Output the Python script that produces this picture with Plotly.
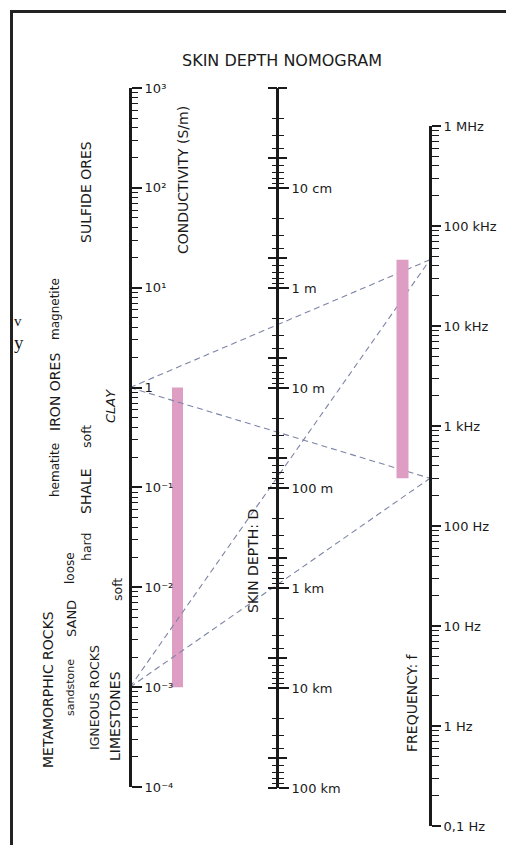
import math
import plotly.graph_objects as go

W, H = 506, 845

# ---------------- data ----------------
sigma_ticks = [1e-4, 1e-3, 1e-2, 1e-1, 1, 1e1, 1e2, 1e3]
sigma_labels = ["10⁻⁴", "10⁻³", "10⁻²", "10⁻¹", "1", "10¹", "10²", "10³"]
depth_ticks_m = [0.1, 1, 10, 100, 1e3, 1e4, 1e5]
depth_labels = ["10 cm", "1 m", "10 m", "100 m", "1 km", "10 km", "100 km"]
depth_top_m = 0.01
freq_ticks_hz = [0.1, 1, 10, 100, 1e3, 1e4, 1e5, 1e6]
freq_labels = ["0,1 Hz", "1 Hz", "10 Hz", "100 Hz", "1 kHz", "10 kHz", "100 kHz", "1 MHz"]
minor_mult = [2, 3, 4, 5, 6, 7, 8, 9]
depth_mid_mult = [5]
depth_minor_mult = [2, 3, 4, 6, 7, 8, 9]

sigma_range = [1e-3, 1.0]        # S/m (pink bar on conductivity scale)
freq_range = [300.0, 46000.0]    # Hz  (pink bar on frequency scale)

rock_labels = [  # text, x, y, size
    ("SULFIDE ORES", 86, 192, 14),
    ("magnetite", 55, 309, 12),
    ("IRON ORES", 55, 392, 14),
    ("hematite", 55, 470, 12),
    ("<i>CLAY</i>", 110, 406, 13),
    ("soft", 86, 437, 12.5),
    ("SHALE", 86, 491, 14),
    ("hard", 86, 547, 12.5),
    ("loose", 70, 568, 12),
    ("SAND", 71, 619, 13),
    ("sandstone", 70, 688, 11),
    ("METAMORPHIC ROCKS", 48, 690, 14),
    ("IGNEOUS ROCKS", 94, 698, 12.5),
    ("soft", 117, 590, 12.5),
    ("LIMESTONES", 115, 716, 14),
]
axis_titles = [("CONDUCTIVITY (S/m)", 183, 180), ("SKIN DEPTH: D", 253, 561),
               ("FREQUENCY: f", 412, 703)]

# ---------------- geometry (layout only) ----------------
SIG = dict(x=130, top=88, bot=787, lo=-4, hi=3)
DEP = dict(x=277, top=88, bot=788, lo=-2, hi=5)
FRQ = dict(x=430, top=126, bot=826, lo=-1, hi=6)
SIG_BAR_X, SIG_BAR_W = 177.5, 11
FRQ_BAR_X, FRQ_BAR_W = 402.5, 12
FONT = "DejaVu Sans"
INK = "#1a1a1a"
PINK = "#de9ec3"
DASH = "#7d84a6"


def dom(ax):
    return [(H - ax["bot"]) / H, (H - ax["top"]) / H]


def pos_of(ax, v):
    return ax["top"] + (ax["hi"] - math.log10(v)) / (ax["hi"] - ax["lo"]) * (ax["bot"] - ax["top"])


def val_at(ax, p):
    return 10 ** (ax["hi"] - (p - ax["top"]) / (ax["bot"] - ax["top"]) * (ax["hi"] - ax["lo"]))


def mults(decades, m):
    out = []
    for d in decades[:-1]:
        for k in m:
            out.append(d * k)
    return out


fig = go.Figure()

# pink range bars
fig.add_trace(go.Scatter(x=[SIG_BAR_X, SIG_BAR_X], y=sigma_range, mode="lines",
                         line=dict(color=PINK, width=SIG_BAR_W), xaxis="x", yaxis="y",
                         hoverinfo="skip", showlegend=False))
fig.add_trace(go.Scatter(x=[FRQ_BAR_X, FRQ_BAR_X], y=freq_range, mode="lines",
                         line=dict(color=PINK, width=FRQ_BAR_W), xaxis="x", yaxis="y3",
                         hoverinfo="skip", showlegend=False))

# dashed construction lines (conductivity end -> frequency end), on the conductivity scale
for s in sigma_range:
    for f in freq_range:
        s_eq = val_at(SIG, pos_of(FRQ, f))
        fig.add_trace(go.Scatter(x=[SIG["x"], FRQ["x"]], y=[s, s_eq], mode="lines",
                                 line=dict(color=DASH, width=1.1, dash="6px,4px"),
                                 xaxis="x", yaxis="y", hoverinfo="skip", showlegend=False))

for yid in ["y2", "y4", "y5"]:
    fig.add_trace(go.Scatter(x=[None], y=[None], xaxis="x", yaxis=yid,
                             showlegend=False, hoverinfo="skip"))

tickfont = dict(family=FONT, size=13, color=INK)


def yax(ax, side, tickvals, ticklen, ticktext=None, minorvals=None, minorlen=5,
        reverse=False, showline=True, overlaying=None):
    rng = [ax["hi"], ax["lo"]] if reverse else [ax["lo"], ax["hi"]]
    d = dict(type="log", range=rng, domain=dom(ax), anchor="free", position=ax["x"] / W,
             side=side, showline=showline, linecolor=INK, linewidth=3, automargin=False,
             showgrid=False, zeroline=False, ticks="outside", tickcolor=INK, tickwidth=1.5,
             ticklen=ticklen, tickmode="array", tickvals=tickvals,
             showticklabels=ticktext is not None, tickfont=tickfont, fixedrange=True)
    if ticktext is not None:
        d["ticktext"] = ticktext
    if minorvals:
        d["minor"] = dict(tickmode="array", tickvals=minorvals, ticks="outside",
                          ticklen=minorlen, tickcolor=INK, tickwidth=1.2, showgrid=False)
    if overlaying:
        d["overlaying"] = overlaying
    return d


depth_all = [depth_top_m] + depth_ticks_m
depth_mid = [depth_top_m] + mults(depth_all, depth_mid_mult)
depth_minor = mults(depth_all, depth_minor_mult)

fig.update_layout(
    width=W, height=H, margin=dict(l=0, r=0, t=0, b=0, pad=0), autosize=False,
    paper_bgcolor="white", plot_bgcolor="rgba(0,0,0,0)", showlegend=False,
    xaxis=dict(range=[0, W], domain=[0, 1], visible=False, fixedrange=True, automargin=False),
    yaxis=yax(SIG, "right", sigma_ticks, 10, sigma_labels, mults(sigma_ticks, minor_mult), 6),
    yaxis2=yax(DEP, "right", depth_ticks_m, 10, depth_labels, depth_minor, 5, reverse=True),
    yaxis4=yax(DEP, "right", depth_mid, 9, reverse=True, showline=False, overlaying="y2"),
    yaxis5=yax(DEP, "left", depth_all + mults(depth_all, depth_mid_mult), 9, None, depth_minor, 5,
               reverse=True, showline=False, overlaying="y2"),
    yaxis3=yax(FRQ, "right", freq_ticks_hz, 9, freq_labels, mults(freq_ticks_hz, minor_mult), 7),
)


def px(x, y):
    return x / W, 1 - y / H


anns = []
tx, ty = px(282, 61)
anns.append(dict(text="SKIN DEPTH NOMOGRAM", x=tx, y=ty, xref="paper", yref="paper",
                 xanchor="center", yanchor="middle", showarrow=False,
                 font=dict(family=FONT, size=16, color=INK)))
for text, x, y, size in rock_labels:
    ax_, ay_ = px(x, y)
    anns.append(dict(text=text, x=ax_, y=ay_, xref="paper", yref="paper", showarrow=False,
                     xanchor="center", yanchor="middle", textangle=-90,
                     font=dict(family=FONT, size=size, color=INK)))
for text, x, y in axis_titles:
    ax_, ay_ = px(x, y)
    anns.append(dict(text=text, x=ax_, y=ay_, xref="paper", yref="paper", showarrow=False,
                     xanchor="center", yanchor="middle", textangle=-90,
                     font=dict(family=FONT, size=14, color=INK)))
for text, x, y, size in [("v", 12, 321, 15), ("y", 12, 342, 19)]:
    ax_, ay_ = px(x, y)
    anns.append(dict(text=text, x=ax_, y=ay_, xref="paper", yref="paper", showarrow=False,
                     xanchor="left", yanchor="middle",
                     font=dict(family="Liberation Serif", size=size, color=INK)))
fig.update_layout(annotations=anns)

# frame
fig.add_shape(type="line", xref="paper", yref="paper", x0=10 / W, x1=1, y0=1 - 11.5 / H, y1=1 - 11.5 / H,
              line=dict(color="#222", width=3))
fig.add_shape(type="line", xref="paper", yref="paper", x0=11.5 / W, x1=11.5 / W, y0=0, y1=1 - 10 / H,
              line=dict(color="#222", width=3))

fig.write_html("out.html", config={"displayModeBar": False, "responsive": False},
               post_script="document.body.style.margin='0';document.body.style.overflow='hidden';")
